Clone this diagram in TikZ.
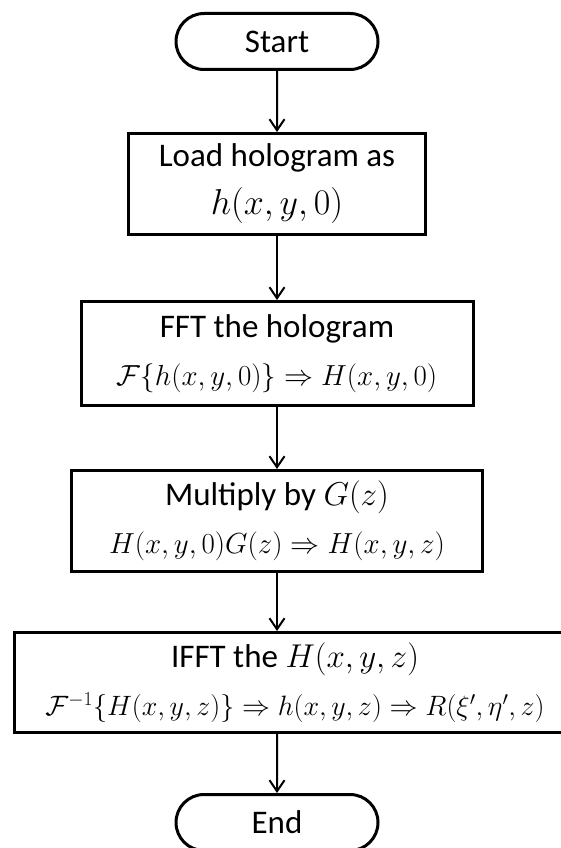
\RequirePackage{fix-cm}
\documentclass[tikz,border=0pt]{standalone}
\usepackage{amsmath}
\usepackage{amssymb}
\usepackage{fontspec}
\setmainfont{Carlito}
\usetikzlibrary{arrows.meta, positioning, shapes.misc}

\newcommand{\txtsz}{\fontsize{33}{48}\selectfont}
\newcommand{\eqsz}{\fontsize{29}{48}\selectfont}

\begin{document}
\begin{tikzpicture}[
  x=1pt, y=1pt,
  term/.style={draw, line width=3pt, rounded rectangle, minimum width=202pt, minimum height=56pt,
              font=\txtsz, inner sep=0pt},
  proc/.style={draw, line width=3pt, minimum height=101pt, align=center, font=\txtsz, inner sep=0pt},
  arr/.style={-{Straight Barb[length=11pt, width=15pt]}, line width=2pt}
]
\useasboundingbox (0,0) rectangle (561,-848);

\node[term] (start) at (277,-41.5) {Start};
\node[proc, minimum width=297pt, below=61pt of start] (load)
  {Load hologram as\\{\fontsize{36}{48}\selectfont $h(x,y,0)$}};
\node[proc, minimum width=392pt, minimum height=104pt, below=64pt of load] (fft)
  {FFT the hologram\\{\eqsz $\mathcal{F}\{h(x,y,0)\}\Rightarrow H(x,y,0)$}};
\node[proc, minimum width=411pt, below=62pt of fft] (mult)
  {Multiply by $G(z)$\\{\eqsz $H(x,y,0)G(z)\Rightarrow H(x,y,z)$}};
\node[proc, minimum width=561pt, minimum height=100pt, below=58pt of mult, xshift=18pt] (ifft)
  {IFFT the $H(x,y,z)$\\{\fontsize{28}{48}\selectfont $\mathcal{F}^{-1}\{H(x,y,z)\}\Rightarrow h(x,y,z)\Rightarrow R(\xi',\eta',z)$}};
\node[term, below=59pt of ifft.south -| mult.south] (end) {End};

\draw[arr] (start) -- (load);
\draw[arr] (load)  -- (fft);
\draw[arr] (fft)   -- (mult);
\draw[arr] (mult)  -- (mult |- ifft.north);
\draw[arr] (ifft.south -| end.north) -- (end);

\end{tikzpicture}
\end{document}
